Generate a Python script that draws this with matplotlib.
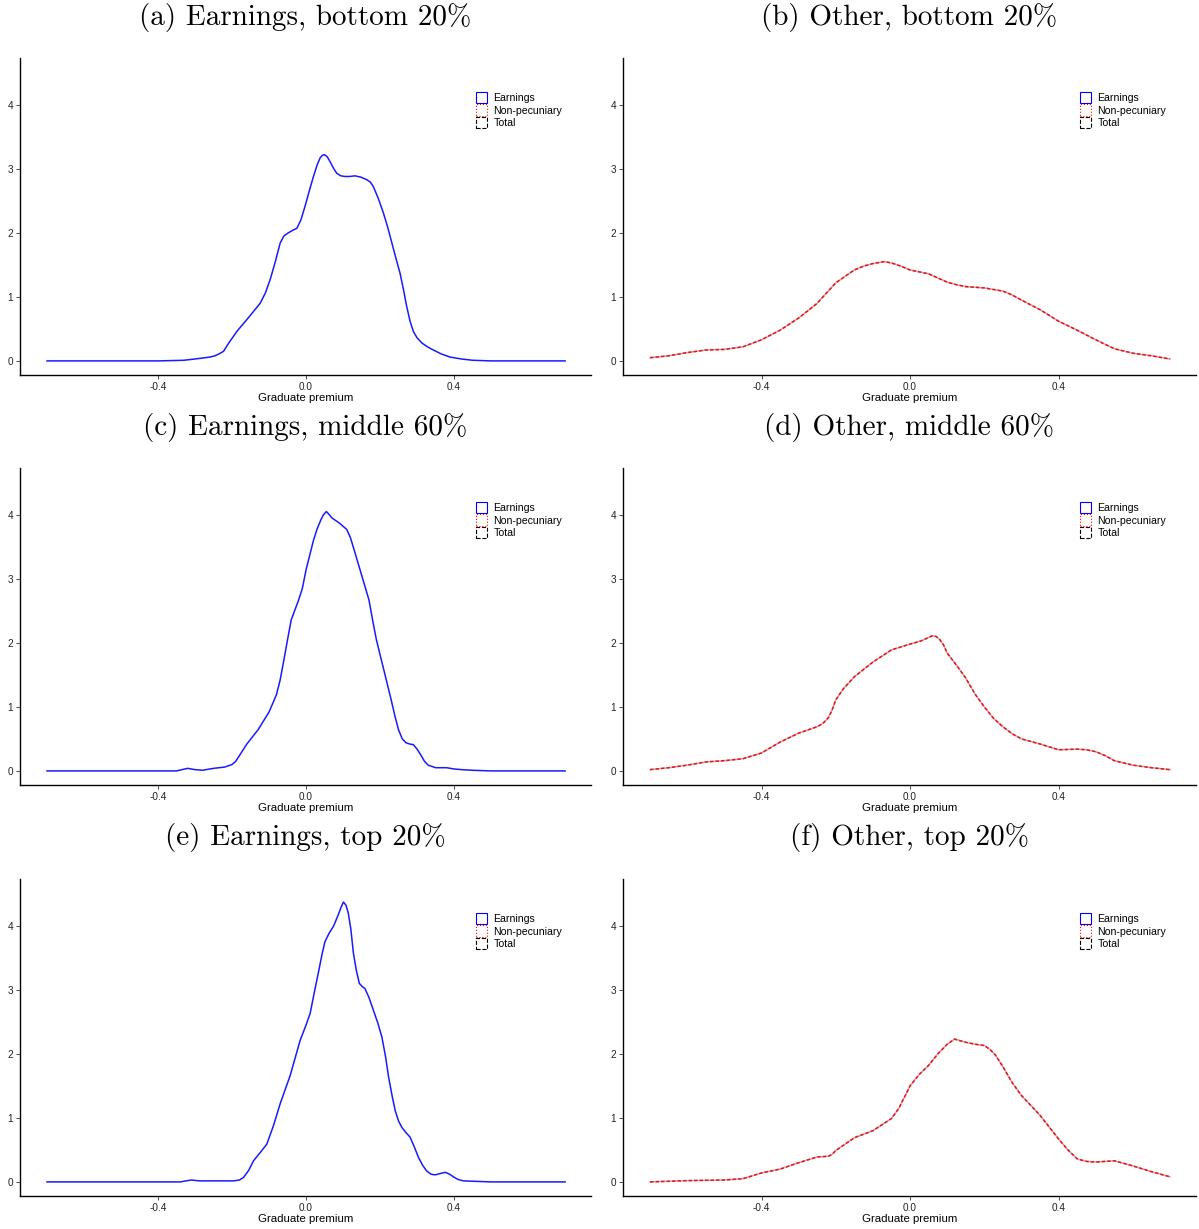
import numpy as np
import matplotlib
matplotlib.use("Agg")
import matplotlib.pyplot as plt
from matplotlib.patches import Patch

plt.rcParams['font.family'] = ['Liberation Sans', 'DejaVu Sans']

# density estimates of the graduate premium, read at selected grid points
x_a = [-0.70, -0.40, -0.33, -0.286, -0.26, -0.246, -0.235, -0.223, -0.21, -0.187, -0.155,
       -0.124, -0.11, -0.097, -0.083, -0.070, -0.06, -0.048, -0.036, -0.025, -0.014, -0.003,
       0.009, 0.020, 0.030, 0.038, 0.044, 0.050, 0.057, 0.065, 0.075, 0.083, 0.094, 0.105,
       0.118, 0.132, 0.148, 0.164, 0.174, 0.182, 0.195, 0.209, 0.220, 0.232, 0.243, 0.254,
       0.263, 0.272, 0.281, 0.290, 0.300, 0.313, 0.328, 0.344, 0.365, 0.389, 0.42, 0.45,
       0.50, 0.70]
y_a = [0.0, 0.0, 0.01, 0.04, 0.06, 0.08, 0.11, 0.15, 0.27, 0.46, 0.68,
       0.90, 1.06, 1.27, 1.55, 1.84, 1.95, 2.00, 2.04, 2.07, 2.20, 2.41,
       2.66, 2.88, 3.06, 3.17, 3.21, 3.22, 3.19, 3.11, 3.00, 2.93, 2.89, 2.88,
       2.88, 2.89, 2.87, 2.83, 2.79, 2.72, 2.54, 2.31, 2.10, 1.84, 1.60, 1.37,
       1.12, 0.85, 0.62, 0.46, 0.36, 0.28, 0.22, 0.17, 0.11, 0.06, 0.03, 0.01,
       0.0, 0.0]

x_b = [-0.70, -0.65, -0.60, -0.55, -0.50, -0.45, -0.40, -0.35, -0.30, -0.25, -0.20, -0.15,
       -0.125, -0.10, -0.07, -0.05, -0.025, 0.0, 0.05, 0.10, 0.125, 0.15, 0.20, 0.25, 0.275,
       0.30, 0.35, 0.40, 0.45, 0.50, 0.55, 0.60, 0.65, 0.70]
y_b = [0.05, 0.08, 0.13, 0.17, 0.18, 0.22, 0.33, 0.48, 0.67, 0.90, 1.22, 1.42,
       1.48, 1.52, 1.55, 1.53, 1.48, 1.42, 1.36, 1.23, 1.19, 1.16, 1.14, 1.09, 1.03,
       0.95, 0.80, 0.62, 0.48, 0.33, 0.19, 0.12, 0.08, 0.03]

x_c = [-0.70, -0.40, -0.35, -0.335, -0.32, -0.30, -0.28, -0.25, -0.22, -0.20, -0.19, -0.18,
       -0.17, -0.16, -0.13, -0.10, -0.08, -0.07, -0.06, -0.05, -0.04, -0.02, -0.01, 0.0, 0.02,
       0.03, 0.04, 0.047, 0.055, 0.063, 0.07, 0.09, 0.11, 0.12, 0.13, 0.15, 0.17, 0.18, 0.19,
       0.21, 0.23, 0.24, 0.25, 0.26, 0.27, 0.28, 0.29, 0.30, 0.31, 0.32, 0.33, 0.35, 0.38,
       0.40, 0.42, 0.45, 0.50, 0.70]
y_c = [0.0, 0.0, 0.0, 0.02, 0.04, 0.02, 0.01, 0.04, 0.06, 0.10, 0.15, 0.24,
       0.33, 0.42, 0.64, 0.92, 1.19, 1.42, 1.73, 2.05, 2.36, 2.67, 2.85, 3.14, 3.60,
       3.78, 3.92, 4.00, 4.05, 4.00, 3.95, 3.87, 3.77, 3.64, 3.45, 3.06, 2.67, 2.35, 2.05,
       1.58, 1.11, 0.86, 0.64, 0.50, 0.44, 0.42, 0.41, 0.34, 0.25, 0.15, 0.09, 0.05, 0.05,
       0.03, 0.02, 0.01, 0.0, 0.0]

x_d = [-0.70, -0.65, -0.60, -0.55, -0.50, -0.45, -0.40, -0.35, -0.30, -0.25, -0.235, -0.22,
       -0.21, -0.20, -0.18, -0.15, -0.10, -0.05, 0.0, 0.03, 0.045, 0.06, 0.07, 0.08, 0.09,
       0.10, 0.125, 0.15, 0.175, 0.20, 0.225, 0.25, 0.275, 0.30, 0.35, 0.40, 0.45, 0.475,
       0.50, 0.525, 0.55, 0.60, 0.65, 0.70]
y_d = [0.02, 0.05, 0.09, 0.14, 0.16, 0.19, 0.28, 0.45, 0.59, 0.69, 0.74, 0.83,
       0.95, 1.11, 1.28, 1.47, 1.70, 1.89, 1.98, 2.03, 2.07, 2.11, 2.10, 2.05, 1.97,
       1.84, 1.65, 1.45, 1.20, 1.00, 0.82, 0.69, 0.58, 0.50, 0.42, 0.33, 0.34, 0.33,
       0.30, 0.24, 0.16, 0.09, 0.05, 0.02]

x_e = [-0.70, -0.34, -0.325, -0.31, -0.295, -0.286, -0.196, -0.18, -0.169, -0.155, -0.142,
       -0.125, -0.106, -0.088, -0.070, -0.043, -0.016, 0.0, 0.011, 0.022, 0.033, 0.043, 0.051,
       0.062, 0.074, 0.087, 0.094, 0.101, 0.108, 0.114, 0.121, 0.128, 0.136, 0.144, 0.152,
       0.159, 0.170, 0.182, 0.194, 0.205, 0.215, 0.223, 0.232, 0.241, 0.250, 0.259, 0.270,
       0.281, 0.293, 0.304, 0.315, 0.326, 0.338, 0.349, 0.362, 0.376, 0.388, 0.398, 0.41,
       0.425, 0.50, 0.70]
y_e = [0.0, 0.0, 0.015, 0.03, 0.02, 0.016, 0.016, 0.03, 0.07, 0.18, 0.33,
       0.45, 0.59, 0.88, 1.22, 1.66, 2.21, 2.45, 2.63, 2.95, 3.26, 3.55, 3.75,
       3.88, 3.99, 4.17, 4.28, 4.37, 4.32, 4.20, 3.95, 3.57, 3.30, 3.10, 3.05,
       3.02, 2.88, 2.68, 2.48, 2.26, 1.95, 1.64, 1.36, 1.11, 0.95, 0.85, 0.77,
       0.70, 0.54, 0.38, 0.26, 0.17, 0.12, 0.11, 0.13, 0.15, 0.12, 0.08, 0.04,
       0.016, 0.0, 0.0]

x_f = [-0.70, -0.60, -0.50, -0.45, -0.40, -0.35, -0.30, -0.25, -0.22, -0.21, -0.20, -0.15,
       -0.10, -0.05, -0.03, -0.02, -0.01, 0.0, 0.025, 0.05, 0.075, 0.10, 0.12, 0.15, 0.175,
       0.20, 0.215, 0.23, 0.25, 0.275, 0.30, 0.35, 0.40, 0.425, 0.45, 0.475, 0.50, 0.55,
       0.60, 0.65, 0.70]
y_f = [0.0, 0.02, 0.03, 0.05, 0.14, 0.20, 0.30, 0.39, 0.40, 0.43, 0.49, 0.69,
       0.80, 0.99, 1.15, 1.27, 1.38, 1.50, 1.68, 1.82, 2.00, 2.15, 2.23, 2.18, 2.15,
       2.13, 2.07, 1.98, 1.80, 1.55, 1.35, 1.04, 0.67, 0.50, 0.36, 0.32, 0.31, 0.33,
       0.25, 0.16, 0.08]

titles = ["(a) Earnings, bottom 20%", "(b) Other, bottom 20%",
          "(c) Earnings, middle 60%", "(d) Other, middle 60%",
          "(e) Earnings, top 20%", "(f) Other, top 20%"]
series = [(x_a, y_a, "earn"), (x_b, y_b, "other"),
          (x_c, y_c, "earn"), (x_d, y_d, "other"),
          (x_e, y_e, "earn"), (x_f, y_f, "other")]
legend_labels = ["Earnings", "Non-pecuniary", "Total"]
x_ticks = [-0.4, 0.0, 0.4]
y_ticks = [0, 1, 2, 3, 4]

W, H = 1199, 1229
fig = plt.figure(figsize=(W / 100, H / 100), dpi=100)

col_left = [20, 623]
col_width = [571, 573]
legend_left = [476, 1080]
row_top = [58, 468, 879]
row_height = 317

for i, (title, (xs, ys, kind)) in enumerate(zip(titles, series)):
    r, c = divmod(i, 2)
    ax = fig.add_axes([col_left[c] / W, 1 - (row_top[r] + row_height) / H,
                       col_width[c] / W, row_height / H])
    if kind == "earn":
        ax.plot(xs, ys, color="#1a1aff", lw=1.1, solid_joinstyle="round")
    else:
        ax.plot(xs, ys, color="#d9a0a0", lw=1.1)
        ax.plot(xs, ys, color="#e8121b", lw=1.1, dashes=(2.2, 1.4))

    ax.set_xlim(-0.773, 0.77)
    ax.set_ylim(-0.22, 4.73)
    ax.set_xticks(x_ticks)
    ax.set_xticklabels(["-0.4", "0.0", "0.4"])
    ax.set_yticks(y_ticks)
    ax.tick_params(direction="out", length=3, width=0.6, color="#333333",
                   labelsize=7.2, labelcolor="#222222", pad=2)
    for side in ("top", "right"):
        ax.spines[side].set_visible(False)
    for side in ("left", "bottom"):
        ax.spines[side].set_linewidth(1.0)
        ax.spines[side].set_color("black")
    ax.set_xlabel("Graduate premium", fontsize=8.2, labelpad=1)

    ax.text(0.5, 1 + 41 / row_height, title, transform=ax.transAxes,
            ha="center", va="center", fontsize=21, family="cmr10")

    handles = [Patch(facecolor="white", edgecolor="blue", linestyle="-", lw=0.8),
               Patch(facecolor="white", edgecolor="red", linestyle=":", lw=0.8),
               Patch(facecolor="white", edgecolor="black", linestyle="--", lw=0.8)]
    ax.legend(handles, legend_labels, loc="upper left",
              bbox_to_anchor=((legend_left[c] - col_left[c]) / col_width[c],
                              (row_height - 34) / row_height),
              frameon=False, fontsize=7.6, handlelength=1.05, handleheight=1.25,
              labelspacing=0.12, handletextpad=0.6, borderpad=0, borderaxespad=0)

fig.savefig("out.png", dpi=100)
